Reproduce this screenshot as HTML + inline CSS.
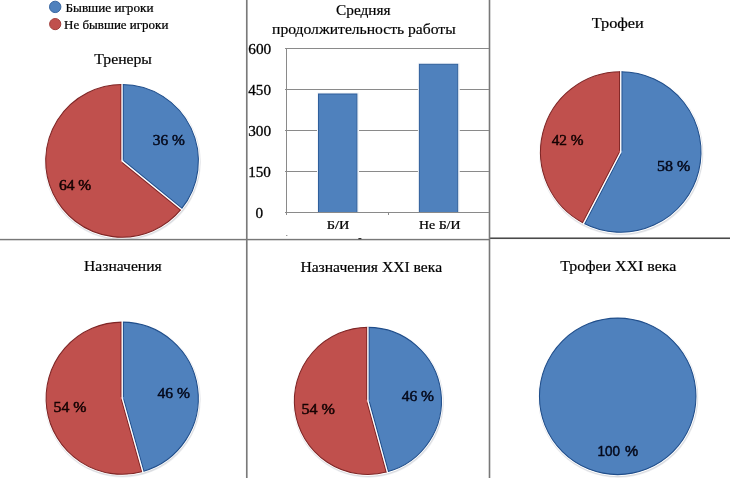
<!DOCTYPE html>
<html><head><meta charset="utf-8"><title>chart</title>
<style>
html,body{margin:0;padding:0;background:#fff;}
body{width:730px;height:478px;overflow:hidden;font-family:"Liberation Serif",serif;}
svg{display:block;will-change:transform;}
</style></head><body>
<svg width="730" height="478" viewBox="0 0 730 478">
<rect x="0" y="0" width="730" height="478" fill="#ffffff"/>
<circle cx="55.2" cy="6.9" r="5.7" fill="#4f81bd" stroke="#3a68a3" stroke-width="1"/>
<circle cx="55.2" cy="24.1" r="5.6" fill="#c0504d" stroke="#a23f3c" stroke-width="1"/>
<circle cx="122.55" cy="162.15" r="78.3" fill="#eeeff2"/>
<circle cx="122.45" cy="161.85" r="77.89999999999999" fill="#d9dbdf"/>
<circle cx="122.05" cy="160.85" r="77.8" fill="#ffffff"/>
<path d="M122.05,160.85 L122.05,84.5 A76.35,76.35 0 0 1 181.18,209.15 Z" fill="#4f81bd"/>
<path d="M122.05,160.85 L181.18,209.15 A76.35,76.35 0 1 1 122.05,84.5 Z" fill="#c0504d"/>
<path d="M122.05,84.5 A76.35,76.35 0 0 1 181.18,209.15" fill="none" stroke="#1f4d8a" stroke-width="1.05"/>
<path d="M181.18,209.15 A76.35,76.35 0 1 1 122.05,84.5" fill="none" stroke="#7e2525" stroke-width="1.05"/>
<line x1="123.15" y1="159.65" x2="123.15" y2="84.35" stroke="#1f4d8a" stroke-width="1.1"/>
<line x1="120.95" y1="159.65" x2="120.95" y2="84.35" stroke="#7e2525" stroke-width="1.1"/>
<line x1="122.28" y1="162.46" x2="180.60" y2="210.09" stroke="#7e2525" stroke-width="1.1"/>
<line x1="123.68" y1="160.76" x2="182.00" y2="208.39" stroke="#1f4d8a" stroke-width="1.1"/>
<path d="M122.05,83.45 L122.05,160.85 L182.00,209.81" fill="none" stroke="#ffffff" stroke-width="1.35" stroke-linejoin="miter"/>
<circle cx="621.25" cy="153.3" r="82.2" fill="#eeeff2"/>
<circle cx="621.15" cy="153.0" r="81.8" fill="#d9dbdf"/>
<circle cx="620.75" cy="152.0" r="81.7" fill="#ffffff"/>
<path d="M620.75,152.0 L620.75,71.75 A80.25,80.25 0 1 1 583.69,223.18 Z" fill="#4f81bd"/>
<path d="M620.75,152.0 L583.69,223.18 A80.25,80.25 0 0 1 620.75,71.75 Z" fill="#c0504d"/>
<path d="M620.75,71.75 A80.25,80.25 0 1 1 583.69,223.18" fill="none" stroke="#1f4d8a" stroke-width="1.05"/>
<path d="M583.69,223.18 A80.25,80.25 0 0 1 620.75,71.75" fill="none" stroke="#7e2525" stroke-width="1.05"/>
<line x1="621.85" y1="150.80" x2="621.85" y2="71.60" stroke="#1f4d8a" stroke-width="1.1"/>
<line x1="619.65" y1="150.80" x2="619.65" y2="71.60" stroke="#7e2525" stroke-width="1.1"/>
<line x1="619.22" y1="152.56" x2="582.64" y2="222.81" stroke="#7e2525" stroke-width="1.1"/>
<line x1="621.17" y1="153.57" x2="584.60" y2="223.82" stroke="#1f4d8a" stroke-width="1.1"/>
<path d="M620.75,70.7 L620.75,152.0 L583.20,224.11" fill="none" stroke="#ffffff" stroke-width="1.35" stroke-linejoin="miter"/>
<circle cx="122.7" cy="399.5" r="78.05" fill="#eeeff2"/>
<circle cx="122.60000000000001" cy="399.2" r="77.64999999999999" fill="#d9dbdf"/>
<circle cx="122.2" cy="398.2" r="77.55" fill="#ffffff"/>
<path d="M122.2,398.2 L122.2,322.1 A76.1,76.1 0 0 1 142.79,471.46 Z" fill="#4f81bd"/>
<path d="M122.2,398.2 L142.79,471.46 A76.1,76.1 0 1 1 122.2,322.1 Z" fill="#c0504d"/>
<path d="M122.2,322.1 A76.1,76.1 0 0 1 142.79,471.46" fill="none" stroke="#1f4d8a" stroke-width="1.05"/>
<path d="M142.79,471.46 A76.1,76.1 0 1 1 122.2,322.1" fill="none" stroke="#7e2525" stroke-width="1.05"/>
<line x1="123.30" y1="397.00" x2="123.30" y2="321.95" stroke="#1f4d8a" stroke-width="1.1"/>
<line x1="121.10" y1="397.00" x2="121.10" y2="321.95" stroke="#7e2525" stroke-width="1.1"/>
<line x1="121.47" y1="399.65" x2="141.77" y2="471.90" stroke="#7e2525" stroke-width="1.1"/>
<line x1="123.58" y1="399.06" x2="143.89" y2="471.31" stroke="#1f4d8a" stroke-width="1.1"/>
<path d="M122.2,321.04999999999995 L122.2,398.2 L143.07,472.47" fill="none" stroke="#ffffff" stroke-width="1.35" stroke-linejoin="miter"/>
<circle cx="368.4" cy="402.2" r="75.5" fill="#eeeff2"/>
<circle cx="368.29999999999995" cy="401.9" r="75.1" fill="#d9dbdf"/>
<circle cx="367.9" cy="400.9" r="75.0" fill="#ffffff"/>
<path d="M367.9,400.9 L367.9,327.34999999999997 A73.55,73.55 0 0 1 387.31,471.84 Z" fill="#4f81bd"/>
<path d="M367.9,400.9 L387.31,471.84 A73.55,73.55 0 1 1 367.9,327.34999999999997 Z" fill="#c0504d"/>
<path d="M367.9,327.34999999999997 A73.55,73.55 0 0 1 387.31,471.84" fill="none" stroke="#1f4d8a" stroke-width="1.05"/>
<path d="M387.31,471.84 A73.55,73.55 0 1 1 367.9,327.34999999999997" fill="none" stroke="#7e2525" stroke-width="1.05"/>
<line x1="369.00" y1="399.70" x2="369.00" y2="327.20" stroke="#1f4d8a" stroke-width="1.1"/>
<line x1="366.80" y1="399.70" x2="366.80" y2="327.20" stroke="#7e2525" stroke-width="1.1"/>
<line x1="367.16" y1="402.35" x2="386.29" y2="472.28" stroke="#7e2525" stroke-width="1.1"/>
<line x1="369.28" y1="401.77" x2="388.41" y2="471.70" stroke="#1f4d8a" stroke-width="1.1"/>
<path d="M367.9,326.29999999999995 L367.9,400.9 L387.58,472.86" fill="none" stroke="#ffffff" stroke-width="1.35" stroke-linejoin="miter"/>
<circle cx="618.2" cy="397.65000000000003" r="80.2" fill="#eeeff2"/>
<circle cx="618.1" cy="397.35" r="79.8" fill="#d9dbdf"/>
<circle cx="617.7" cy="396.35" r="79.7" fill="#ffffff"/>
<circle cx="617.7" cy="396.35" r="78.25" fill="#4f81bd" stroke="#1f4d8a" stroke-width="1.05"/>
<rect x="0" y="240" width="246" height="6" fill="#ffffff"/>
<rect x="0" y="238.85" width="489.5" height="1.45" fill="#787878"/>
<rect x="489.5" y="237.45" width="240.5" height="1.6" fill="#4a4a4a"/>
<rect x="245.95" y="0" width="1.65" height="478" fill="#7a7a7a"/>
<rect x="488.7" y="0" width="1.6" height="478" fill="#787878"/>
<rect x="286" y="235" width="1.4" height="1" fill="#9a9a9a"/>
<rect x="358.4" y="238" width="3" height="1.2" fill="#333"/>
<line x1="285.0" y1="48.5" x2="489" y2="48.5" stroke="#8a8a8a" stroke-width="1"/>
<line x1="285.0" y1="89.5" x2="489" y2="89.5" stroke="#8a8a8a" stroke-width="1"/>
<line x1="285.0" y1="130.5" x2="489" y2="130.5" stroke="#8a8a8a" stroke-width="1"/>
<line x1="285.0" y1="171.5" x2="489" y2="171.5" stroke="#8a8a8a" stroke-width="1"/>
<line x1="286.5" y1="48.5" x2="286.5" y2="213" stroke="#8a8a8a" stroke-width="1"/>
<rect x="317.0" y="92.5" width="42.0" height="120.0" fill="#f3f5f9"/>
<rect x="318.5" y="94.0" width="38.4" height="118.5" fill="#4f81bd" stroke="#2f5f9c" stroke-width="1"/>
<rect x="417.9" y="62.8" width="41.9" height="149.7" fill="#f3f5f9"/>
<rect x="419.4" y="64.3" width="38.3" height="148.2" fill="#4f81bd" stroke="#2f5f9c" stroke-width="1"/>
<line x1="285.0" y1="212.5" x2="489" y2="212.5" stroke="#8a8a8a" stroke-width="1"/>
<line x1="286.5" y1="212.5" x2="286.5" y2="215" stroke="#8a8a8a" stroke-width="1"/>
<line x1="388.5" y1="212.5" x2="388.5" y2="215" stroke="#8a8a8a" stroke-width="1"/>
<text transform="translate(65.49,11.60) scale(1.0128,1)" font-family="Liberation Serif" font-size="13" fill="#000" stroke="#000" stroke-width="0.24">Бывшие игроки</text>
<text transform="translate(64.10,28.50) scale(0.9986,1)" font-family="Liberation Serif" font-size="13" fill="#000" stroke="#000" stroke-width="0.24">Не бывшие игроки</text>
<text transform="translate(94.35,63.80) scale(1.0133,1)" font-family="Liberation Serif" font-size="15.5" fill="#000" stroke="#000" stroke-width="0.2">Тренеры</text>
<text transform="translate(336.06,15.00) scale(0.9880,1)" font-family="Liberation Serif" font-size="15.5" fill="#000" stroke="#000" stroke-width="0.2">Средняя</text>
<text transform="translate(272.05,34.20) scale(1.0088,1)" font-family="Liberation Serif" font-size="15.5" fill="#000" stroke="#000" stroke-width="0.2">продолжительность работы</text>
<text transform="translate(591.64,28.40) scale(1.0531,1)" font-family="Liberation Serif" font-size="15.5" fill="#000" stroke="#000" stroke-width="0.2">Трофеи</text>
<text transform="translate(84.10,270.80) scale(1.0059,1)" font-family="Liberation Serif" font-size="15.5" fill="#000" stroke="#000" stroke-width="0.2">Назначения</text>
<text transform="translate(300.40,271.70) scale(1.0071,1)" font-family="Liberation Serif" font-size="15.5" fill="#000" stroke="#000" stroke-width="0.2">Назначения XXI века</text>
<text transform="translate(560.24,270.70) scale(1.0262,1)" font-family="Liberation Serif" font-size="15.5" fill="#000" stroke="#000" stroke-width="0.2">Трофеи XXI века</text>
<text transform="translate(152.85,144.60) scale(0.9935,1)" font-family="Liberation Serif" font-size="15.5" fill="#050a1c" stroke="#050a1c" stroke-width="0.5">36 %</text>
<text transform="translate(58.95,189.50) scale(1.0000,1)" font-family="Liberation Serif" font-size="15.5" fill="#160303" stroke="#160303" stroke-width="0.5">64 %</text>
<text transform="translate(551.65,144.70) scale(0.9905,1)" font-family="Liberation Serif" font-size="15.5" fill="#160303" stroke="#160303" stroke-width="0.5">42 %</text>
<text transform="translate(657.07,171.00) scale(1.0309,1)" font-family="Liberation Serif" font-size="15.5" fill="#050a1c" stroke="#050a1c" stroke-width="0.5">58 %</text>
<text transform="translate(157.45,397.70) scale(1.0063,1)" font-family="Liberation Serif" font-size="15.5" fill="#050a1c" stroke="#050a1c" stroke-width="0.5">46 %</text>
<text transform="translate(53.58,412.00) scale(1.0211,1)" font-family="Liberation Serif" font-size="15.5" fill="#160303" stroke="#160303" stroke-width="0.5">54 %</text>
<text transform="translate(401.65,400.50) scale(1.0032,1)" font-family="Liberation Serif" font-size="15.5" fill="#050a1c" stroke="#050a1c" stroke-width="0.5">46 %</text>
<text transform="translate(301.46,413.70) scale(1.0374,1)" font-family="Liberation Serif" font-size="15.5" fill="#160303" stroke="#160303" stroke-width="0.5">54 %</text>
<text transform="translate(597.57,456.10) scale(0.9289,1)" font-family="Liberation Sans" font-size="14.5" fill="#050a1c" stroke="#050a1c" stroke-width="0.5">100</text>
<text transform="translate(624.89,456.10) scale(1.0213,1)" font-family="Liberation Sans" font-size="14.5" fill="#050a1c" stroke="#050a1c" stroke-width="0.5">%</text>
<text transform="translate(248.23,53.90) scale(1.0212,1)" font-family="Liberation Serif" font-size="15" fill="#000" stroke="#000" stroke-width="0.3">600</text>
<text transform="translate(248.25,95.40) scale(1.0115,1)" font-family="Liberation Serif" font-size="15" fill="#000" stroke="#000" stroke-width="0.3">450</text>
<text transform="translate(248.13,136.10) scale(1.0212,1)" font-family="Liberation Serif" font-size="15" fill="#000" stroke="#000" stroke-width="0.3">300</text>
<text transform="translate(248.13,177.00) scale(1.0120,1)" font-family="Liberation Serif" font-size="15" fill="#000" stroke="#000" stroke-width="0.3">150</text>
<text transform="translate(255.49,218.00) scale(1.0154,1)" font-family="Liberation Serif" font-size="15" fill="#000" stroke="#000" stroke-width="0.3">0</text>
<text transform="translate(326.85,229.25) scale(1.1026,1)" font-family="Liberation Serif" font-size="13" fill="#000" stroke="#000" stroke-width="0.24">Б/И</text>
<text transform="translate(419.07,229.25) scale(1.0658,1)" font-family="Liberation Serif" font-size="13" fill="#000" stroke="#000" stroke-width="0.24">Не Б/И</text>
</svg>
</body></html>
